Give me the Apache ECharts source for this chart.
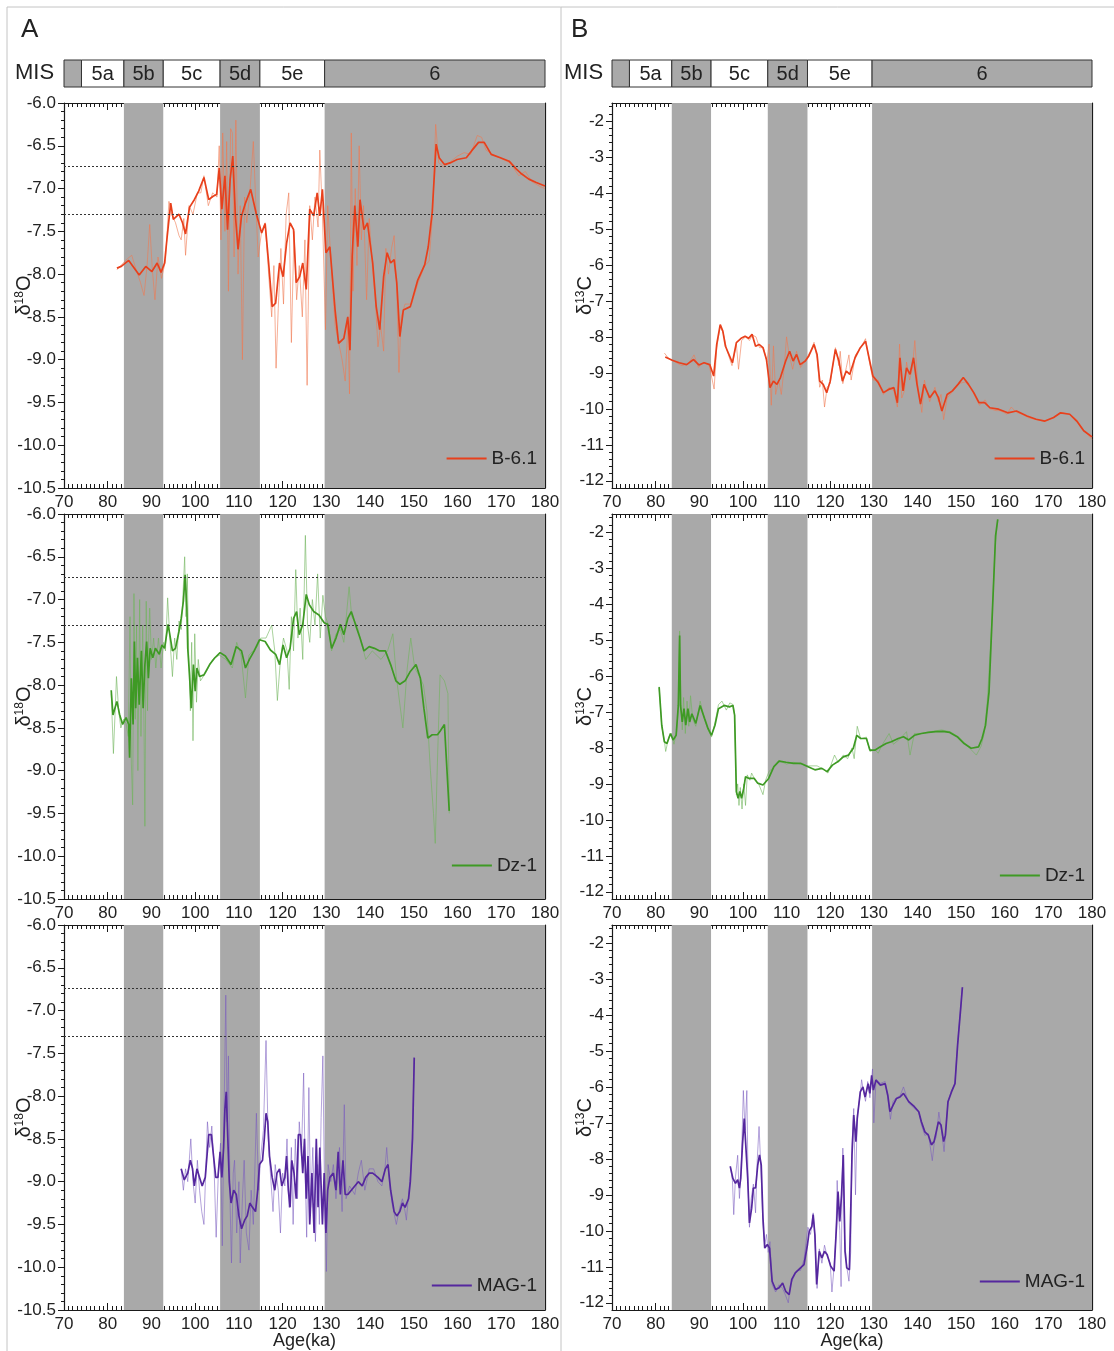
<!DOCTYPE html>
<html><head><meta charset="utf-8">
<script src="https://cdn.jsdelivr.net/npm/echarts@6/dist/echarts.min.js"></script>
<style>html,body{margin:0;padding:0;background:#fff}#c{width:1114px;height:1351px}</style>
</head><body><div id="c"></div><script>
// ---------------- DATA ----------------
const ageMin = 70, ageMax = 180, ageStep = 10;
const d18Orange = [-10.5, -6.0], d18Ostep = 0.5;
const d13Crange = [-12.2, -1.5];
const d13CTicks = [-12, -11, -10, -9, -8, -7, -6, -5, -4, -3, -2];
const refLinesO = [-6.74, -7.3];
const bands = [[83.7, 92.7], [105.7, 114.8], [129.6, 180]];
const misStart = [70, 74, 83.7, 92.7, 105.7, 114.8, 129.6];
const misEnd   = [74, 83.7, 92.7, 105.7, 114.8, 129.6, 180];
const misLabels = ['', '5a', '5b', '5c', '5d', '5e', '6'];
const misGlacial = ['', '5b', '5d', '6'];

const B61_d18O_smooth = [[82.1,-7.93],[83.1,-7.91],[84.8,-7.84],[87.2,-8.01],[88.7,-7.91],[90.1,-7.97],[91.3,-7.87],[92.2,-7.98],[93,-7.87],[93.6,-7.56],[94.4,-7.17],[95,-7.36],[96.3,-7.30],[97.1,-7.40],[97.8,-7.53],[98.7,-7.22],[99.8,-7.13],[100.8,-7.03],[102,-6.87],[103.1,-7.13],[104.1,-7.09],[104.9,-7.07],[105.5,-6.76],[106.1,-7.24],[106.8,-6.85],[107.4,-7.48],[108,-6.89],[108.6,-6.62],[109.2,-7.32],[109.8,-7.71],[110.6,-7.32],[111.5,-7.17],[112.7,-7.01],[113.9,-7.28],[115.2,-7.52],[116,-7.41],[116.8,-7.87],[117.6,-8.38],[118.4,-8.34],[119.3,-7.87],[120.1,-8.03],[120.9,-7.64],[121.7,-7.40],[122.5,-7.48],[123.1,-8.10],[123.9,-8.03],[124.6,-7.87],[125.4,-8.18],[126.2,-7.24],[127.1,-7.32],[127.9,-7.05],[128.5,-7.32],[129.1,-7.01],[129.9,-7.75],[130.8,-7.68],[132,-8.42],[132.8,-8.81],[134,-8.75],[134.9,-8.50],[135.4,-8.89],[135.9,-7.79],[136.5,-7.20],[137.2,-7.68],[137.7,-7.13],[138.6,-7.48],[139.4,-7.40],[140.6,-7.87],[141.4,-8.38],[142.2,-8.65],[143.1,-8.03],[143.9,-7.75],[144.7,-7.87],[145.5,-7.83],[146.1,-8.10],[146.8,-8.73],[147.6,-8.42],[149.2,-8.38],[150.9,-8.07],[152.5,-7.89],[153.3,-7.68],[154.2,-7.28],[155.1,-6.48],[155.8,-6.64],[157,-6.72],[158.3,-6.70],[159.9,-6.66],[162,-6.64],[163.2,-6.56],[164.8,-6.46],[166.1,-6.46],[167.7,-6.60],[169.8,-6.64],[171.8,-6.68],[173.4,-6.77],[174.7,-6.83],[176.3,-6.89],[178,-6.93],[180,-6.97]];
const B61_d18O_raw = [[82.1,-7.95],[83,-7.9],[84.5,-7.82],[85.5,-7.78],[86.5,-7.95],[87.5,-8.1],[88.3,-8.25],[89,-7.9],[89.6,-7.42],[90.2,-7.95],[90.8,-8.3],[91.5,-7.8],[92.3,-8.05],[93.2,-7.85],[94,-7.15],[94.6,-7.3],[95.5,-7.4],[96.3,-7.55],[96.8,-7.6],[97.4,-7.35],[97.8,-7.78],[98.6,-7.2],[99.5,-7.3],[100.5,-7.05],[101.3,-7.05],[102,-6.85],[103,-7.2],[104,-7.05],[105,-7.1],[105.5,-6.5],[105.9,-7.6],[106.3,-6.35],[106.8,-7.5],[107.2,-6.45],[107.6,-8.2],[108.1,-6.3],[108.5,-6.35],[108.9,-7.8],[109.3,-6.2],[109.8,-8.0],[110.3,-7.2],[110.8,-9.0],[111.3,-7.1],[111.8,-7.4],[112.5,-7.05],[113.3,-6.45],[113.8,-7.1],[114.4,-7.8],[115.2,-7.5],[116,-7.4],[116.8,-8.0],[117.5,-8.5],[118,-7.9],[118.5,-9.1],[119,-8.4],[119.6,-7.7],[120.2,-8.35],[120.8,-7.3],[121.4,-7.05],[122,-8.8],[122.6,-7.5],[123.2,-8.3],[123.8,-7.9],[124.5,-8.5],[125.1,-7.6],[125.6,-9.3],[126.2,-7.2],[126.8,-7.6],[127.4,-7.1],[128.1,-7.45],[128.5,-6.55],[129.1,-7.3],[129.8,-8.65],[130.3,-7.2],[131,-7.8],[132,-8.6],[132.8,-8.8],[133.6,-9.0],[134.3,-9.25],[134.9,-8.6],[135.3,-9.4],[135.7,-6.35],[136.1,-8.2],[136.6,-7.0],[137,-7.9],[137.5,-6.5],[138,-7.6],[138.5,-7.2],[139.2,-8.3],[139.8,-7.35],[140.5,-7.9],[141.2,-8.3],[141.8,-8.85],[142.4,-8.6],[143.1,-8.9],[143.6,-7.7],[144.2,-8.0],[144.9,-7.7],[145.5,-7.55],[146.1,-8.2],[146.6,-9.15],[147.1,-8.5],[148,-8.35],[149.5,-8.35],[151,-8.1],[152.5,-7.9],[153.5,-7.85],[154.3,-7.3],[155,-6.25],[155.7,-6.7],[157,-6.75],[158.5,-6.68],[160,-6.62],[161.5,-6.58],[163,-6.6],[164.5,-6.38],[165.5,-6.4],[166.5,-6.55],[168,-6.6],[170,-6.65],[172,-6.7],[174,-6.85],[175.5,-6.8],[177,-6.92],[179,-6.98],[180,-7.0]];

const B61_d13C_smooth = [[82.2,-8.56],[83.8,-8.65],[85.4,-8.72],[87.1,-8.77],[88.7,-8.63],[89.9,-8.78],[91.1,-8.72],[92.4,-8.77],[93.3,-9.09],[94,-8.21],[94.8,-7.66],[95.4,-7.84],[96,-8.26],[96.8,-8.49],[97.6,-8.72],[98.5,-8.16],[99.7,-8.03],[100.5,-7.98],[101.3,-8.04],[102.1,-7.93],[102.9,-8.26],[103.7,-8.21],[104.6,-8.30],[105.4,-8.63],[106.2,-9.41],[107,-9.23],[107.8,-9.32],[108.6,-9.13],[109.8,-8.67],[110.7,-8.40],[111.5,-8.67],[112.3,-8.49],[113.1,-8.77],[114.3,-8.67],[115.1,-8.53],[116.3,-8.21],[117,-8.49],[117.6,-9.23],[118.4,-9.32],[119.2,-9.55],[120,-9.23],[121.2,-8.35],[122,-8.67],[122.8,-9.23],[123.7,-8.95],[124.5,-9.04],[125.7,-8.58],[126.9,-8.30],[128.1,-8.12],[128.9,-8.58],[129.8,-9.09],[131,-9.27],[132.2,-9.55],[133.4,-9.46],[134.6,-9.41],[135.4,-9.83],[136,-8.58],[136.7,-9.50],[137.5,-8.86],[138.3,-9.04],[139.1,-8.58],[139.9,-9.32],[140.7,-9.87],[141.5,-9.32],[142.8,-9.69],[144,-9.50],[144.8,-9.69],[145.6,-10.06],[146.8,-9.60],[148,-9.50],[149.3,-9.32],[150.5,-9.13],[151.7,-9.32],[152.9,-9.55],[154.1,-9.83],[155.4,-9.83],[156.6,-9.97],[158.6,-10.01],[160.7,-10.11],[162.7,-10.06],[165.1,-10.20],[167.2,-10.29],[169.2,-10.34],[171.2,-10.24],[172.8,-10.11],[174.9,-10.15],[176.5,-10.34],[178.1,-10.61],[180,-10.78]];
const B61_d13C_raw = [[82,-8.45],[83,-8.6],[84.5,-8.7],[86,-8.8],[87.5,-8.75],[88.8,-8.5],[89.8,-8.85],[91,-8.7],[92.3,-8.8],[93.4,-9.45],[94,-8.3],[94.8,-7.7],[95.5,-7.9],[96.4,-8.4],[97.5,-8.8],[98.5,-8.2],[99,-8.9],[99.7,-8.1],[100.6,-8.0],[101.5,-8.1],[102.2,-7.95],[103,-8.0],[103.8,-8.3],[104.7,-8.3],[105.5,-8.7],[106,-8.2],[106.5,-9.9],[107,-8.25],[107.5,-9.6],[108.2,-9.2],[108.8,-9.6],[109.5,-8.8],[110,-8.0],[110.6,-8.5],[111.4,-8.9],[112.3,-8.4],[113.2,-8.85],[114.3,-8.65],[115.5,-8.4],[116.3,-8.15],[117,-8.6],[117.6,-9.4],[118.2,-9.2],[118.7,-9.95],[119.3,-9.4],[120,-9.3],[121.2,-8.3],[122,-8.8],[122.3,-8.4],[122.9,-9.3],[123.7,-8.85],[124.3,-8.5],[124.8,-9.2],[125.8,-8.5],[127,-8.3],[128.1,-8.05],[129,-8.7],[129.8,-9.2],[131,-9.2],[132.2,-9.6],[133.5,-9.4],[134.6,-9.5],[135.4,-9.95],[135.9,-8.2],[136.4,-9.7],[137,-9.5],[137.5,-8.7],[138.2,-9.2],[138.8,-8.9],[139.4,-8.1],[140.1,-9.4],[141,-10.1],[141.6,-9.2],[142.8,-9.8],[144,-9.4],[144.8,-9.8],[145.4,-9.6],[146,-10.3],[146.8,-9.7],[148.2,-9.5],[149.5,-9.3],[151,-9.25],[152,-9.4],[153,-9.6],[154.2,-9.9],[155.5,-9.75],[156.6,-10.0],[158,-10.05],[158.9,-10.05],[159.8,-10.1],[160.5,-10.15],[161.5,-9.95],[162.7,-10.1],[164,-10.15],[165.5,-10.25],[167.2,-10.3],[169.2,-10.35],[171.2,-10.25],[172.8,-10.1],[174.9,-10.15],[176.5,-10.3],[178.1,-10.6],[180,-10.85]];

const Dz1_d18O_smooth = [[80.8,-8.06],[81.2,-8.35],[82.1,-8.19],[82.7,-8.34],[83.4,-8.46],[84.2,-8.38],[84.8,-8.46],[85,-8.85],[85.4,-7.92],[85.8,-8.46],[86.1,-7.49],[86.4,-8.27],[86.8,-7.68],[87.2,-8.23],[87.7,-7.60],[88.1,-8.27],[88.5,-7.76],[88.9,-7.49],[89.3,-7.92],[89.7,-7.57],[90.3,-7.68],[90.9,-7.57],[91.8,-7.64],[92.4,-7.53],[93,-7.57],[93.8,-7.29],[94.2,-7.41],[94.8,-7.60],[95.5,-7.57],[96.3,-7.37],[96.8,-7.22],[97.3,-7.02],[97.7,-6.71],[98.1,-7.10],[98.3,-7.57],[98.7,-7.88],[99.1,-8.27],[99.6,-7.76],[100,-8.07],[100.4,-7.80],[101,-7.90],[102,-7.88],[103.3,-7.76],[104.5,-7.68],[105.7,-7.62],[106.9,-7.66],[108.2,-7.76],[109.4,-7.55],[110.6,-7.60],[111.5,-7.80],[112.4,-7.70],[113.5,-7.60],[114.7,-7.47],[116,-7.49],[117.2,-7.59],[118.4,-7.64],[119.3,-7.76],[120.1,-7.53],[120.9,-7.68],[121.7,-7.57],[122.5,-7.22],[123.2,-7.14],[123.8,-7.41],[124.6,-7.29],[125.4,-6.94],[126.1,-7.06],[127.1,-7.14],[128.3,-7.18],[129.5,-7.27],[130.3,-7.29],[131.2,-7.57],[132.2,-7.45],[133.2,-7.29],[134,-7.41],[134.9,-7.22],[135.7,-7.14],[136.9,-7.33],[137.7,-7.45],[138.6,-7.60],[139.8,-7.55],[141,-7.57],[142.2,-7.60],[143.5,-7.60],[144.7,-7.76],[145.9,-7.95],[146.8,-7.99],[148,-7.95],[149.2,-7.84],[150.5,-7.76],[151.5,-7.92],[152.3,-8.27],[153.2,-8.62],[154.2,-8.58],[155.4,-8.58],[156,-8.54],[157,-8.46],[158.1,-9.47]];
const Dz1_d18O_raw = [[80.8,-8.1],[81.3,-8.8],[81.7,-8.3],[82,-7.9],[82.5,-8.3],[83,-8.5],[83.6,-8.4],[84.2,-8.45],[84.7,-8.6],[85.1,-7.2],[85.4,-8.9],[85.7,-9.4],[86,-6.93],[86.3,-8.4],[86.6,-7.3],[86.9,-9.0],[87.3,-7.0],[87.6,-8.6],[88,-7.3],[88.3,-8.5],[88.5,-9.65],[88.8,-7.02],[89.1,-8.3],[89.4,-7.4],[89.6,-7.1],[90,-7.7],[90.5,-7.45],[91,-7.8],[91.6,-7.45],[92.2,-7.8],[92.8,-7.5],[93.2,-7.6],[93.7,-6.98],[94.2,-7.45],[94.8,-7.9],[95.3,-7.45],[95.8,-7.7],[96.3,-7.25],[96.8,-7.35],[97.2,-6.95],[97.6,-6.5],[97.9,-7.2],[98.2,-6.7],[98.5,-7.6],[98.9,-8.3],[99.2,-7.5],[99.5,-8.65],[99.9,-7.4],[100.3,-8.2],[100.7,-7.7],[101.2,-7.95],[102.5,-7.85],[104,-7.7],[105.5,-7.65],[107,-7.7],[108.5,-7.8],[109.5,-7.5],[110.5,-7.65],[111.5,-8.15],[112.3,-7.65],[113.2,-7.6],[114.2,-7.55],[115,-7.45],[116.2,-7.45],[117.5,-7.3],[118.2,-7.6],[118.8,-8.18],[119.5,-7.7],[120.2,-7.45],[121,-7.6],[121.5,-8.05],[122,-7.2],[122.5,-7.6],[123,-6.65],[123.5,-7.45],[124,-7.1],[124.6,-7.7],[125.2,-6.25],[125.7,-7.3],[126.2,-7.5],[126.8,-7.0],[127.4,-7.3],[128,-6.7],[128.6,-7.45],[129.2,-6.95],[129.8,-7.2],[130.5,-7.3],[131.2,-7.6],[132.2,-7.4],[133.2,-7.35],[134,-7.5],[135.2,-6.85],[135.8,-7.2],[137,-7.3],[138,-7.5],[139,-7.7],[140.5,-7.6],[142.5,-7.7],[144,-7.6],[145.2,-7.4],[146,-7.9],[147.5,-8.5],[148.5,-7.8],[149.3,-7.45],[150.2,-7.8],[151.3,-7.9],[152.2,-8.0],[153,-8.3],[153.8,-9.0],[154.5,-9.5],[154.9,-9.85],[155.4,-8.9],[156,-7.88],[157,-7.95],[157.8,-8.1],[158.1,-9.5]];

const Dz1_d13C_smooth = [[80.8,-6.31],[81.4,-7.37],[82,-7.83],[82.6,-7.88],[83.4,-7.60],[84,-7.78],[84.7,-7.65],[85.2,-6.82],[85.5,-4.88],[85.7,-6.82],[86.1,-7.28],[86.5,-6.91],[86.9,-7.37],[87.4,-6.91],[87.8,-7.28],[88.3,-7.05],[89.2,-7.32],[90.2,-6.82],[91.2,-7.18],[92,-7.46],[92.8,-7.65],[93.6,-7.37],[94.4,-6.91],[95.7,-6.82],[96.9,-6.86],[97.7,-6.82],[98.1,-7.09],[98.5,-9.21],[98.9,-9.40],[99.3,-9.21],[99.7,-9.40],[100.2,-9.12],[100.6,-8.80],[101.4,-8.85],[102.6,-8.85],[103.4,-8.98],[104.6,-9.03],[105.9,-8.85],[107.1,-8.52],[108.3,-8.37],[109.9,-8.40],[111.6,-8.43],[113.2,-8.43],[114.8,-8.52],[116.5,-8.61],[118.1,-8.57],[119.3,-8.66],[120.5,-8.48],[121.8,-8.38],[123,-8.25],[124.2,-8.20],[125.3,-8.01],[126.1,-7.65],[127,-7.74],[128.3,-7.74],[129.1,-8.06],[130.3,-8.06],[131.5,-7.97],[132.8,-7.88],[134,-7.83],[135.6,-7.74],[136.8,-7.69],[138,-7.78],[139.3,-7.65],[140.9,-7.60],[142.5,-7.57],[144.2,-7.55],[145.8,-7.54],[147.4,-7.57],[149.1,-7.69],[150.7,-7.88],[152.3,-8.01],[154,-7.97],[154.8,-7.74],[155.6,-7.37],[156.4,-6.45],[157.2,-4.14],[157.9,-2.11],[158.4,-1.65]];
const Dz1_d13C_raw = [[80.8,-6.3],[81.4,-7.4],[82,-7.8],[82.3,-8.1],[83,-7.7],[83.6,-7.6],[84.2,-7.9],[84.8,-7.55],[85.2,-6.9],[85.5,-4.75],[85.8,-6.7],[86.1,-7.5],[86.4,-6.6],[86.8,-7.6],[87.2,-6.7],[87.6,-7.4],[88,-6.55],[88.5,-7.2],[89.2,-7.4],[90.2,-6.7],[91.2,-7.2],[92,-7.5],[92.8,-7.7],[93.6,-7.3],[94.4,-6.8],[95.2,-6.7],[96.2,-6.95],[97,-6.75],[97.8,-6.8],[98.1,-7.1],[98.5,-9.3],[98.8,-9.0],[99.1,-9.6],[99.4,-9.1],[99.8,-9.7],[100.2,-9.0],[100.6,-9.6],[101,-8.75],[101.6,-8.9],[102,-8.7],[102.8,-8.9],[103.6,-9.0],[104.6,-9.3],[105.2,-8.9],[106,-8.65],[107,-8.55],[108.2,-8.35],[110,-8.45],[111.6,-8.4],[113.2,-8.45],[115,-8.5],[117,-8.5],[118.5,-8.6],[119.5,-8.7],[121,-8.2],[121.8,-8.4],[123,-8.2],[124,-8.3],[125,-8.0],[125.5,-8.3],[126.2,-7.4],[127,-7.75],[128.3,-7.7],[129.1,-8.1],[130.3,-8.05],[131,-8.15],[132,-7.9],[133.5,-7.6],[134.5,-7.9],[136,-7.75],[137.5,-7.55],[138.3,-8.2],[139.3,-7.6],[141,-7.6],[143,-7.55],[145.5,-7.5],[147.5,-7.55],[149.5,-7.7],[151.5,-7.95],[153.5,-8.2],[154.6,-7.95],[155.3,-7.6],[156,-6.7],[157,-4.6],[157.8,-2.4],[158.4,-1.65]];

const MAG1_d18O_smooth = [[96.8,-8.85],[97.5,-8.98],[98.3,-8.9],[98.9,-8.75],[99.4,-8.85],[99.8,-9.05],[100.4,-8.85],[101,-8.95],[101.6,-9.05],[102.3,-8.95],[102.7,-8.7],[103.1,-8.45],[103.7,-8.45],[104.1,-8.65],[104.7,-8.95],[105.2,-8.95],[105.7,-8.65],[106.1,-8.95],[106.5,-8.6],[106.8,-8.15],[107.1,-7.95],[107.4,-8.4],[107.8,-9.0],[108.2,-9.25],[108.8,-9.1],[109.4,-9.15],[110,-9.4],[110.6,-9.55],[111.3,-9.45],[111.9,-9.4],[112.5,-9.25],[113.1,-9.3],[113.8,-9.35],[114.3,-9.1],[114.7,-8.8],[115.4,-8.75],[115.8,-8.5],[116.2,-8.2],[116.6,-8.3],[117,-8.7],[117.6,-8.95],[118.2,-9.1],[118.7,-8.9],[119.3,-8.85],[119.8,-9.05],[120.5,-8.95],[120.9,-8.7],[121.3,-9.1],[121.7,-9.3],[122.1,-8.75],[122.6,-8.9],[123.1,-9.2],[123.6,-8.45],[124.1,-8.45],[124.6,-8.9],[125,-8.5],[125.4,-9.2],[125.8,-8.7],[126.2,-9.5],[126.7,-8.9],[127.2,-9.6],[127.7,-8.5],[128.1,-9.3],[128.5,-8.6],[129.1,-9.5],[129.5,-8.9],[129.9,-9.6],[130.3,-9.1],[130.8,-8.95],[131.6,-8.9],[132.2,-9.1],[132.7,-8.65],[133.2,-9.15],[133.8,-8.75],[134.3,-9.15],[134.9,-9.15],[135.7,-9.1],[136.5,-9.05],[137.3,-9.0],[138.2,-9.05],[139,-8.95],[139.8,-8.9],[140.6,-8.9],[141.8,-8.95],[142.7,-9.0],[143.5,-8.85],[144.1,-8.8],[144.7,-9.1],[145.5,-9.35],[146.1,-9.4],[146.8,-9.35],[147.4,-9.25],[148,-9.3],[148.8,-9.2],[149.2,-9.0],[149.7,-8.5],[150.1,-7.55]];
const MAG1_d18O_raw = [[96.8,-8.85],[97.3,-9.1],[97.8,-8.85],[98.3,-9.0],[99,-8.5],[99.5,-9.0],[100,-9.25],[100.5,-8.75],[101,-9.1],[101.5,-9.35],[102,-9.5],[102.4,-8.9],[102.8,-8.3],[103.3,-8.6],[103.8,-8.35],[104.3,-8.8],[104.8,-9.65],[105.3,-8.9],[105.8,-8.55],[106.2,-9.75],[106.6,-8.2],[107,-6.82],[107.3,-8.3],[107.6,-7.53],[108,-9.3],[108.3,-9.95],[108.7,-8.9],[109,-8.75],[109.5,-9.6],[110,-9.0],[110.3,-9.95],[110.8,-9.2],[111.2,-8.75],[111.7,-9.6],[112.3,-9.8],[112.8,-9.1],[113.3,-9.5],[114,-8.2],[114.5,-9.1],[115,-8.7],[115.6,-8.4],[116.2,-7.35],[116.7,-8.5],[117.2,-8.9],[117.8,-9.35],[118.3,-8.8],[119,-9.1],[119.5,-9.6],[120,-8.9],[120.5,-9.05],[121,-8.5],[121.5,-9.3],[122,-8.6],[122.4,-9.5],[122.9,-8.5],[123.4,-9.2],[123.8,-8.3],[124.3,-8.7],[124.8,-7.73],[125.2,-9.0],[125.5,-9.65],[126,-7.9],[126.4,-9.3],[126.9,-8.6],[127.5,-9.7],[128,-8.8],[128.4,-9.5],[128.8,-8.25],[129.2,-7.53],[129.6,-9.2],[130,-10.05],[130.4,-8.8],[131,-9.0],[131.6,-8.8],[132.2,-9.2],[133,-8.6],[133.6,-9.35],[134.1,-8.1],[134.5,-9.2],[135.3,-9.05],[136.5,-9.15],[137.3,-8.9],[138,-8.75],[138.8,-9.1],[139.8,-8.85],[140.8,-8.85],[141.8,-9.0],[142.7,-9.05],[143.4,-8.85],[143.8,-8.6],[144.4,-9.0],[145,-9.25],[146,-9.5],[146.8,-9.3],[147.4,-9.2],[148,-9.35],[148.3,-9.45],[148.8,-9.15],[149.3,-8.9],[149.7,-8.4],[150.1,-7.55]];

const MAG1_d13C_smooth = [[97.1,-8.21],[97.7,-8.54],[98.3,-8.68],[98.8,-8.58],[99.2,-8.81],[99.5,-8.54],[99.9,-7.61],[100.3,-6.88],[100.7,-6.88],[101.1,-8.54],[101.5,-9.78],[102,-9.37],[102.4,-8.81],[102.9,-8.81],[103.4,-8.17],[103.8,-7.89],[104.2,-8.17],[104.6,-9.65],[105,-10.48],[105.6,-10.38],[106.1,-10.48],[106.7,-11.40],[107.5,-11.63],[108.3,-11.58],[109.1,-11.45],[109.8,-11.68],[110.6,-11.77],[111.2,-11.35],[112,-11.17],[113.2,-11.03],[114,-10.94],[114.8,-10.38],[115.2,-10.01],[115.8,-9.88],[116.1,-9.55],[116.5,-10.11],[116.9,-11.49],[117.5,-10.57],[118.1,-10.75],[118.7,-10.57],[119.3,-10.66],[120.1,-10.98],[120.9,-11.12],[121.5,-9.74],[121.8,-8.91],[122.2,-9.74],[122.6,-9.00],[123,-7.89],[123.4,-10.57],[123.8,-11.03],[124.4,-11.08],[125,-7.89],[125.4,-6.78],[125.9,-7.52],[126.2,-6.88],[126.9,-6.14],[127.5,-6.00],[128,-6.28],[128.7,-5.91],[129.1,-6.18],[129.5,-5.68],[129.9,-6.09],[130.5,-5.81],[131.5,-5.95],[132.6,-5.91],[133.2,-6.23],[133.7,-6.69],[134.4,-6.51],[135.2,-6.32],[136,-6.28],[136.8,-6.18],[138,-6.41],[139.3,-6.55],[140.3,-6.69],[140.9,-6.97],[141.7,-7.25],[142.5,-7.34],[143.2,-7.61],[143.8,-7.52],[144.3,-7.25],[144.8,-6.97],[145.4,-7.06],[146,-7.52],[146.4,-7.34],[147,-6.41],[147.8,-6.14],[148.6,-5.91],[149.2,-4.84],[149.9,-3.83],[150.3,-3.23]];
const MAG1_d13C_raw = [[97.1,-8.2],[97.6,-8.6],[97.9,-9.55],[98.3,-8.5],[98.8,-7.9],[99.2,-9.1],[99.6,-8.3],[100.1,-6.1],[100.5,-7.2],[100.9,-6.1],[101.2,-8.8],[101.5,-9.9],[101.9,-9.1],[102.4,-8.7],[102.9,-9.5],[103.3,-8.0],[103.7,-7.1],[104.1,-8.2],[104.6,-9.8],[105,-10.4],[105.4,-10.1],[105.8,-10.6],[106.2,-10.3],[106.7,-11.5],[107.5,-11.7],[108.3,-11.5],[109.1,-11.6],[109.8,-11.8],[110.4,-12.0],[110.9,-11.5],[111.6,-11.3],[112.4,-11.1],[113.2,-11.1],[114,-10.8],[114.5,-10.3],[114.9,-9.9],[115.5,-10.1],[116.1,-9.5],[116.5,-10.2],[117,-11.6],[117.5,-10.5],[118.1,-10.9],[118.7,-10.4],[119.3,-10.7],[120,-10.9],[120.4,-11.7],[120.9,-11.0],[121.3,-10.2],[121.6,-8.6],[121.9,-9.5],[122.2,-10.0],[122.5,-11.55],[122.7,-9.1],[122.9,-7.7],[123.3,-10.2],[123.8,-11.0],[124.3,-11.4],[124.7,-10.6],[125,-7.6],[125.4,-6.6],[125.8,-9.0],[126.2,-6.8],[126.8,-6.3],[127.2,-5.8],[127.6,-6.1],[128.1,-6.4],[128.6,-5.85],[129.1,-6.3],[129.7,-5.5],[130,-7.0],[130.5,-5.8],[131.5,-5.9],[132.6,-5.85],[133.2,-6.3],[133.8,-6.9],[134.4,-6.4],[135.2,-6.3],[136,-6.25],[136.8,-6.0],[138,-6.45],[139.3,-6.6],[140.3,-6.7],[140.9,-7.05],[141.7,-7.35],[142.5,-7.3],[143.4,-8.05],[143.9,-7.5],[144.3,-7.4],[144.9,-6.7],[145.4,-7.1],[146.1,-7.8],[146.5,-7.2],[147,-6.4],[147.8,-6.1],[148.6,-5.9],[149.2,-4.8],[149.9,-3.8],[150.3,-3.23]];

// ---------------- LAYOUT / STYLE ----------------
const FONT = '"Liberation Sans", Arial, sans-serif';
const INK = '#1a1a1a';
const BAND = '#a9a9a9';
const colLeft = [64, 612];
const colWidth = [481, 480];
const rowTop = [103, 514, 925];
const rowH = 385;

// minor tick positions for the δ13C axes (every 0.2 inside the axis range)
const d13CMinor = [];
for (let k = Math.ceil(d13Crange[0] / 0.2); k * 0.2 <= d13Crange[1] + 1e-9; k++) d13CMinor.push(+(k * 0.2).toFixed(1));

const panels = [
  {col:0,row:0,iso:'O',smooth:B61_d18O_smooth,raw:B61_d18O_raw,name:'B-6.1',c:'#e8401c',rc:'rgba(240,120,80,0.75)'},
  {col:1,row:0,iso:'C',smooth:B61_d13C_smooth,raw:B61_d13C_raw,name:'B-6.1',c:'#e8401c',rc:'rgba(240,120,80,0.75)'},
  {col:0,row:1,iso:'O',smooth:Dz1_d18O_smooth,raw:Dz1_d18O_raw,name:'Dz-1',c:'#3e9a24',rc:'rgba(110,180,90,0.75)'},
  {col:1,row:1,iso:'C',smooth:Dz1_d13C_smooth,raw:Dz1_d13C_raw,name:'Dz-1',c:'#3e9a24',rc:'rgba(110,180,90,0.75)'},
  {col:0,row:2,iso:'O',smooth:MAG1_d18O_smooth,raw:MAG1_d18O_raw,name:'MAG-1',c:'#55279e',rc:'rgba(120,90,190,0.7)'},
  {col:1,row:2,iso:'C',smooth:MAG1_d13C_smooth,raw:MAG1_d13C_raw,name:'MAG-1',c:'#55279e',rc:'rgba(120,90,190,0.7)'}
];
const legendPos = [[577,449],[29,449],[577,856],[29,866],[577,1276],[29,1272]];

const grids = [], xAxes = [], yAxes = [], series = [], legends = [];
const tickLine = {color: INK, width: 1};
const labelStyle = {fontSize:17,color:'#222',fontFamily:FONT};

panels.forEach((p, i) => {
  grids.push({left: colLeft[p.col], top: rowTop[p.row], width: colWidth[p.col], height: rowH,
              containLabel:false, outerBoundsMode:'none'});
  const xBase = {gridIndex:i, type:'value', min:ageMin, max:ageMax, interval:ageStep,
    splitLine:{show:false}, axisLine:{lineStyle:{color:INK,width:1.2}},
    axisTick:{inside:true,length:7,lineStyle:tickLine},
    minorTick:{show:true,splitNumber:10,length:4,lineStyle:tickLine}};
  const xi = xAxes.length;
  xAxes.push(Object.assign({}, xBase, {position:'bottom',
    axisLabel:Object.assign({margin:6}, labelStyle),
    name: p.row === 2 ? 'Age(ka)' : '', nameLocation:'middle', nameGap:22, nameMoveOverlap:false,
    nameTextStyle:{fontSize:18,color:'#222',fontFamily:FONT,verticalAlign:'top'}}));
  xAxes.push(Object.assign({}, xBase, {position:'top', axisLabel:{show:false}}));
  const isO = p.iso === 'O';
  const yi = yAxes.length;
  const yName = {
    name: isO ? '{a|δ}{s|18}{a|O}' : '{a|δ}{s|13}{a|C}', nameLocation:'middle', nameRotate:90,
    nameGap: isO ? 30 : 17, nameMoveOverlap:false,
    nameTextStyle:{rich:{a:{fontSize:20,color:'#222',fontFamily:FONT},
      s:{fontSize:12,color:'#222',fontFamily:FONT,verticalAlign:'top',padding:[0,0,8,0]}}}};
  if (isO) {
    const yBase = {gridIndex:i, type:'value', min:d18Orange[0], max:d18Orange[1], interval:d18Ostep,
      splitLine:{show:false}, axisLine:{show:true,lineStyle:{color:INK,width:1.2}}};
    yAxes.push(Object.assign({}, yBase, yName, {position:'left',
      axisTick:{inside:false,length:6,lineStyle:tickLine},
      minorTick:{show:true,splitNumber:5,length:3,lineStyle:tickLine},
      axisLabel:Object.assign({margin:8, formatter: v => v.toFixed(1)}, labelStyle)}));
    yAxes.push(Object.assign({}, yBase, {position:'right',
      axisTick:{inside:true,length:6,lineStyle:tickLine},
      minorTick:{show:true,splitNumber:5,length:3,lineStyle:tickLine},
      axisLabel:{show:false}}));
  } else {
    const yBase = {gridIndex:i, type:'value', min:d13Crange[0], max:d13Crange[1],
      splitLine:{show:false}, axisLine:{show:true,lineStyle:{color:INK,width:1.2}}};
    yAxes.push(Object.assign({}, yBase, yName, {position:'left',
      axisTick:{inside:false,length:6,lineStyle:tickLine,customValues:d13CTicks},
      axisLabel:Object.assign({margin:8, customValues:d13CTicks, formatter: v => String(Math.round(v))}, labelStyle)}));
    yAxes.push(Object.assign({}, yBase, {position:'right',
      axisTick:{inside:true,length:6,lineStyle:tickLine,customValues:d13CTicks},
      axisLabel:{show:false}}));
    yAxes.push(Object.assign({}, yBase, {position:'left', axisLine:{show:false},
      axisTick:{inside:false,length:3,lineStyle:tickLine,customValues:d13CMinor},
      axisLabel:{show:false}}));
    yAxes.push(Object.assign({}, yBase, {position:'right', axisLine:{show:false},
      axisTick:{inside:true,length:3,lineStyle:tickLine,customValues:d13CMinor},
      axisLabel:{show:false}}));
  }
  const bandSeries = {type:'line', xAxisIndex:xi, yAxisIndex:yi, data:[], silent:true, z:1, animation:false,
    markArea:{silent:true, itemStyle:{color:BAND}, data: bands.map(b => [{xAxis:b[0]},{xAxis:b[1]}])}};
  if (isO) {
    bandSeries.markLine = {silent:true, symbol:'none', animation:false, label:{show:false},
      lineStyle:{type:[2,2], color:'#333', width:1}, data: refLinesO.map(v => ({yAxis:v}))};
  }
  series.push(bandSeries);
  series.push({type:'line', name:p.name+' raw', xAxisIndex:xi, yAxisIndex:yi, data:p.raw, symbol:'none',
    lineStyle:{width:0.8,color:p.rc}, z:3, animation:false, silent:true});
  series.push({type:'line', name:p.name, xAxisIndex:xi, yAxisIndex:yi, data:p.smooth, symbol:'none',
    lineStyle:{width:1.7,color:p.c}, itemStyle:{color:p.c}, z:4, animation:false, silent:true});
  legends.push({data:[p.name], right:legendPos[i][0], top:legendPos[i][1], icon:'rect', itemWidth:40, itemHeight:2,
    selectedMode:false, textStyle:{fontSize:19,color:'#222',fontFamily:FONT}, padding:0});
});

// MIS bars
[0,1].forEach(c => {
  const gi = grids.length;
  grids.push({left: colLeft[c], top: 60, width: colWidth[c], height: 27, containLabel:false, outerBoundsMode:'none'});
  xAxes.push({gridIndex:gi, type:'value', min:ageMin, max:ageMax, show:false});
  yAxes.push({gridIndex:gi, type:'value', min:0, max:1, show:false});
  series.push({type:'custom', xAxisIndex:xAxes.length-1, yAxisIndex:yAxes.length-1, silent:true, animation:false,
    data: misStart.map((s, k) => [s, misEnd[k], k]),
    renderItem: (params, api) => {
      const a = api.coord([api.value(0), 0]);
      const b = api.coord([api.value(1), 1]);
      const lab = misLabels[api.value(2)];
      const glac = misGlacial.indexOf(lab) >= 0;
      return {type:'group', children:[
        {type:'rect', shape:{x:a[0], y:b[1], width:b[0]-a[0], height:a[1]-b[1]},
         style:{fill: glac ? BAND : '#fff', stroke:'#333', lineWidth:1}},
        {type:'text', style:{text:lab, x:(a[0]+b[0])/2, y:(a[1]+b[1])/2+1, align:'center', verticalAlign:'middle',
         fontSize:20, fill:'#222', fontFamily:FONT}}
      ]};
    }});
});

const chart = echarts.init(document.getElementById('c'), null, {renderer:'canvas'});
chart.setOption({
  backgroundColor:'#fff',
  animation:false,
  grid: grids, xAxis: xAxes, yAxis: yAxes, series: series, legend: legends,
  graphic: [
    {type:'line', shape:{x1:7,y1:7,x2:1114,y2:7}, style:{stroke:'#c4c4c4',lineWidth:1}},
    {type:'line', shape:{x1:7,y1:7,x2:7,y2:1351}, style:{stroke:'#c4c4c4',lineWidth:1}},
    {type:'line', shape:{x1:561,y1:7,x2:561,y2:1351}, style:{stroke:'#c4c4c4',lineWidth:1}},
    {type:'text', left:21, top:17, style:{text:'A', fontSize:26, fill:'#222', fontFamily:FONT}},
    {type:'text', left:571, top:17, style:{text:'B', fontSize:26, fill:'#222', fontFamily:FONT}},
    {type:'text', left:15, top:62, style:{text:'MIS', fontSize:22, fill:'#222', fontFamily:FONT}},
    {type:'text', left:564, top:62, style:{text:'MIS', fontSize:22, fill:'#222', fontFamily:FONT}}
  ]
});
</script></body></html>
